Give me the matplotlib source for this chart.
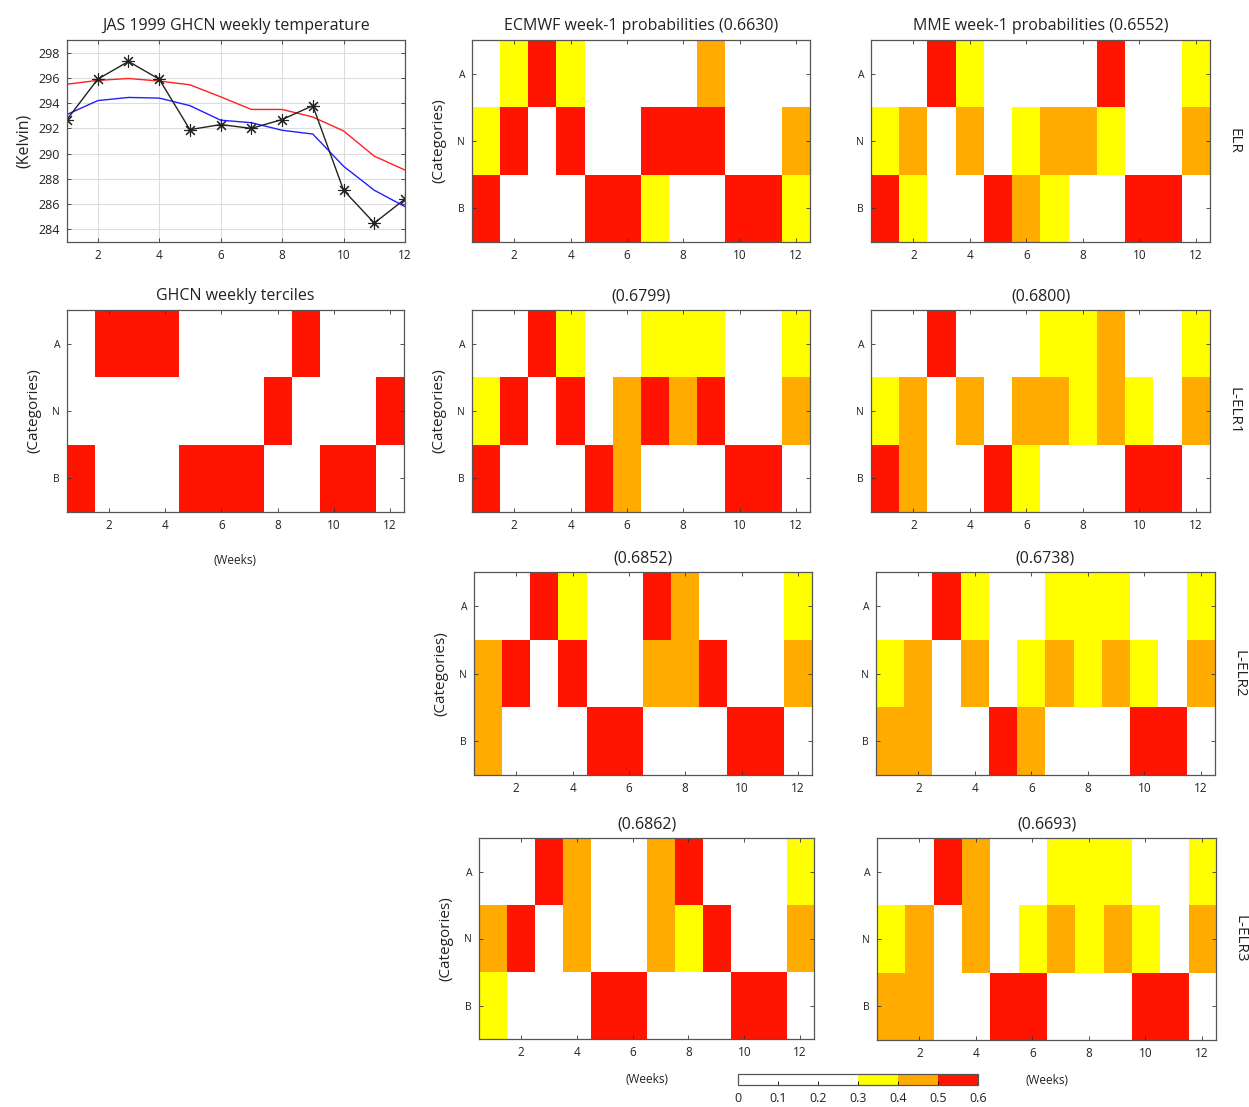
import numpy as np
import matplotlib
matplotlib.use('Agg')
from matplotlib import pyplot as plt
from matplotlib.colors import ListedColormap, BoundaryNorm

plt.rcParams['font.family'] = ['Open Sans', 'DejaVu Sans']

#
# DATA
#
weeks = np.arange(1, 13)
obs_temp = [292.7, 295.9, 297.3, 295.9, 291.9, 292.3, 292.0, 292.7, 293.8, 287.1, 284.5, 286.4]
upper_temp = [295.5, 295.8, 295.95, 295.75, 295.45, 294.5, 293.5, 293.5, 292.9, 291.8, 289.8, 288.7]
lower_temp = [293.1, 294.2, 294.45, 294.4, 293.8, 292.65, 292.45, 291.85, 291.55, 289.0, 287.1, 285.8]

categories = ['B', 'N', 'A']

# probability levels
W, Y, O, R = 0.20, 0.35, 0.45, 0.55

# rows: A, N, B
ghcn_terciles = [[0, 1, 1, 1, 0, 0, 0, 0, 1, 0, 0, 0],
                 [0, 0, 0, 0, 0, 0, 0, 1, 0, 0, 0, 1],
                 [1, 0, 0, 0, 1, 1, 1, 0, 0, 1, 1, 0]]

ecmwf_elr = [[W, Y, R, Y, W, W, W, W, O, W, W, W],
             [Y, R, W, R, W, W, R, R, R, W, W, O],
             [R, W, W, W, R, R, Y, W, W, R, R, Y]]
mme_elr = [[W, W, R, Y, W, W, W, W, R, W, W, Y],
           [Y, O, W, O, W, Y, O, O, Y, W, W, O],
           [R, Y, W, W, R, O, Y, W, W, R, R, W]]
ecmwf_lelr1 = [[W, W, R, Y, W, W, Y, Y, Y, W, W, Y],
               [Y, R, W, R, W, O, R, O, R, W, W, O],
               [R, W, W, W, R, O, W, W, W, R, R, W]]
mme_lelr1 = [[W, W, R, W, W, W, Y, Y, O, W, W, Y],
             [Y, O, W, O, W, O, O, Y, O, Y, W, O],
             [R, O, W, W, R, Y, W, W, W, R, R, W]]
ecmwf_lelr2 = [[W, W, R, Y, W, W, R, O, W, W, W, Y],
               [O, R, W, R, W, W, O, O, R, W, W, O],
               [O, W, W, W, R, R, W, W, W, R, R, W]]
mme_lelr2 = [[W, W, R, Y, W, W, Y, Y, Y, W, W, Y],
             [Y, O, W, O, W, Y, O, Y, O, Y, W, O],
             [O, O, W, W, R, O, W, W, W, R, R, W]]
ecmwf_lelr3 = [[W, W, R, O, W, W, O, R, W, W, W, Y],
               [O, R, W, O, W, W, O, Y, R, W, W, O],
               [Y, W, W, W, R, R, W, W, W, R, R, W]]
mme_lelr3 = [[W, W, R, O, W, W, Y, Y, Y, W, W, Y],
             [Y, O, W, O, W, Y, O, Y, O, Y, W, O],
             [O, O, W, W, R, R, W, W, W, R, R, W]]

panel_titles = ['ECMWF week-1 probabilities (0.6630)', 'MME week-1 probabilities (0.6552)',
                '(0.6799)', '(0.6800)', '(0.6852)', '(0.6738)', '(0.6862)', '(0.6693)']
row_names = ['ELR', 'L-ELR1', 'L-ELR2', 'L-ELR3']

bounds = [0, 0.1, 0.2, 0.3, 0.4, 0.5, 0.6]
cmap = ListedColormap(['white', 'white', 'white', '#FFFF00', '#FFAB00', '#FF1400'])
norm = BoundaryNorm(bounds, cmap.N, clip=True)

FW, FH = 1249, 1107
fig = plt.figure(figsize=(FW/100, FH/100), dpi=100)

def add_ax(x0, y0, x1, y1):
    return fig.add_axes([x0/FW, 1 - y1/FH, (x1 - x0)/FW, (y1 - y0)/FH])

TXT = '#222222'

def style(ax):
    ax.tick_params(direction='in', top=True, right=True, length=3, width=0.6,
                   color='#333333', labelsize=8.5, labelcolor=TXT, pad=5)
    for s in ax.spines.values():
        s.set_color('#555555')
        s.set_linewidth(0.9)

def heat(ax, data, title, ylabel=True):
    ax.imshow(np.array(data, dtype=float), cmap=cmap, norm=norm, aspect='auto',
              extent=(0.5, 12.5, 0.5, 3.5), interpolation='nearest')
    ax.set_xticks([2, 4, 6, 8, 10, 12])
    ax.set_yticks([1, 2, 3])
    ax.set_yticklabels(categories)
    style(ax)
    ax.tick_params(axis='y', labelsize=7.5)
    ax.set_title(title, fontsize=11.5, color=TXT, pad=7)
    if ylabel:
        ax.set_ylabel('(Categories)', fontsize=11, color=TXT, labelpad=8)

# %%
# line chart
ax = add_ax(67, 40, 405, 242)
ax.plot(weeks, upper_temp, color='#FF2020', lw=1)
ax.plot(weeks, lower_temp, color='#2020FF', lw=1)
ax.plot(weeks, obs_temp, color='#222222', lw=1, marker=(8, 2, 0), ms=9, mew=0.8,
        mec='#222222')
ax.set_xlim(1, 12)
ax.set_ylim(283, 299)
ax.set_xticks([2, 4, 6, 8, 10, 12])
ax.set_yticks(np.arange(284, 299, 2))
ax.grid(True, color='#DDDDDD', lw=0.8)
style(ax)
ax.tick_params(axis='y', labelsize=9)
ax.set_title('JAS 1999 GHCN weekly temperature', fontsize=11.5, color=TXT, pad=7)
ax.set_ylabel('(Kelvin)', fontsize=11.5, color=TXT, labelpad=5)

# GHCN terciles
ax = add_ax(67, 310, 404, 512)
heat(ax, ghcn_terciles, 'GHCN weekly terciles')
ax.set_xlabel('(Weeks)', fontsize=8.5, color=TXT, labelpad=16)

# forecast panels
boxes_left = [(472, 40, 810, 242), (472, 310, 810, 512), (474, 572, 812, 775), (479, 838, 814, 1039)]
boxes_right = [(871, 40, 1210, 242), (871, 310, 1210, 512), (876, 572, 1215, 775), (877, 838, 1216, 1040)]
left_data = [ecmwf_elr, ecmwf_lelr1, ecmwf_lelr2, ecmwf_lelr3]
right_data = [mme_elr, mme_lelr1, mme_lelr2, mme_lelr3]

for i in range(4):
    axl = add_ax(*boxes_left[i])
    heat(axl, left_data[i], panel_titles[2*i])
    axr = add_ax(*boxes_right[i])
    heat(axr, right_data[i], panel_titles[2*i + 1], ylabel=False)
    axr.text(1.07, 0.5, row_names[i], transform=axr.transAxes, rotation=270,
             ha='center', va='center', fontsize=11, color=TXT)
    if i == 3:
        axl.set_xlabel('(Weeks)', fontsize=8.5, color=TXT, labelpad=10)
        axr.set_xlabel('(Weeks)', fontsize=8.5, color=TXT, labelpad=10)

# colorbar
cax = add_ax(738, 1074, 978, 1085)
sm = plt.cm.ScalarMappable(cmap=cmap, norm=norm)
cb = fig.colorbar(sm, cax=cax, orientation='horizontal', ticks=bounds)
cb.ax.set_xticklabels(['0', '0.1', '0.2', '0.3', '0.4', '0.5', '0.6'])
cb.ax.tick_params(direction='in', length=3, width=0.6, labelsize=9, labelcolor=TXT, pad=5)
cb.outline.set_edgecolor('#555555')
cb.outline.set_linewidth(0.9)

fig.savefig('out.png', dpi=100)
